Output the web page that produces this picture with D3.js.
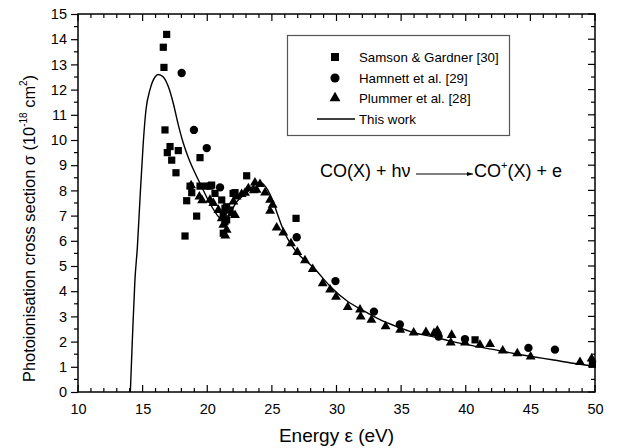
<!DOCTYPE html>
<html><head><meta charset="utf-8">
<script src="https://cdn.jsdelivr.net/npm/d3@7"></script>
<style>body{margin:0;background:#fff}svg{display:block;font-family:"Liberation Sans",Arial,sans-serif}</style>
</head><body><svg id="c" width="627" height="448"></svg>
<script>
// ---- data ----
const samsonGardner = [[16.86,14.19],[16.6,13.68],[16.65,12.88],[16.73,10.4],[17.12,9.74],[16.91,9.5],[17.76,9.58],[17.25,9.2],[19.44,9.3],[17.58,8.7],[18.67,8.17],[18.8,7.91],[19.44,8.17],[19.96,8.17],[20.21,8.17],[18.41,7.59],[19.18,6.98],[18.28,6.19],[23.05,8.58],[22.15,7.91],[20.34,8.21],[20.6,7.88],[21.12,7.62],[21.5,7.35],[21.76,7.22],[21.24,7.02],[21.5,6.83],[21.24,6.3],[22.0,7.88],[21.37,7.29],[21.37,6.76],[26.87,6.89],[40.72,2.07],[49.8,1.1]];
const hamnett = [[18.02,12.66],[18.97,10.4],[19.96,9.68],[20.99,8.12],[26.92,6.14],[29.92,4.4],[32.9,3.19],[34.9,2.68],[37.9,2.2],[39.94,2.1],[44.85,1.75],[46.9,1.68]];
const plummer = [[18.75,8.2],[19.39,7.75],[19.6,7.6],[20.21,7.62],[20.47,7.49],[20.86,7.22],[21.12,6.89],[21.24,6.63],[21.5,6.43],[21.4,6.2],[21.89,7.09],[22.15,7.02],[22.02,7.55],[22.28,7.75],[22.66,7.85],[22.92,7.9],[23.18,8.08],[23.6,8.0],[23.69,8.31],[24.08,8.25],[23.82,8.02],[24.47,7.91],[24.86,7.62],[25.06,7.42],[24.86,7.19],[25.37,6.52],[25.88,6.32],[26.48,5.9],[26.97,5.55],[27.56,5.22],[28.16,4.87],[28.93,4.31],[29.5,4.06],[29.96,3.77],[30.87,3.37],[31.82,3.27],[31.87,2.99],[32.7,2.86],[33.8,2.6],[34.93,2.46],[35.97,2.35],[36.92,2.37],[37.54,2.33],[37.8,2.43],[38.91,2.26],[38.84,1.96],[39.94,1.96],[41.1,1.87],[41.88,1.9],[42.86,1.64],[43.99,1.53],[45.02,1.4],[48.84,1.18],[49.74,1.32]];
const thisWorkE = [14.05,14.2,14.4,14.6,14.8,15.05,15.26,15.57,15.96,16.2,16.6,17.0,17.37,17.76,18.15,18.54,19.0,19.44,20.2,20.86,21.3,21.76,22.28,23.05,23.7,24.1,24.6,25.1,25.5,26.0,26.5,27.0,28.2,29.5,30.8,32.1,33.4,34.9,36.0,37.5,39.0,40.6,42.1,43.7,45.2,46.8,48.3,49.9];
const thisWorkSigma = [0,2.0,4.4,5.8,7.7,9.9,11.2,12.0,12.5,12.6,12.5,12.1,11.46,10.6,9.87,9.3,8.75,8.28,7.49,6.96,6.75,7.09,7.55,7.9,8.25,8.33,8.08,7.55,6.96,6.3,5.85,5.5,4.95,4.2,3.62,3.22,2.86,2.55,2.35,2.19,2.0,1.83,1.69,1.53,1.4,1.27,1.14,1.02];
const xTicks = [10,15,20,25,30,35,40,45,50];
const yTicks = [0,1,2,3,4,5,6,7,8,9,10,11,12,13,14,15];
const legendLabels = ["Samson & Gardner [30]","Hamnett et al. [29]","Plummer et al. [28]","This work"];

// ---- chart ----
const svg = d3.select("#c");
const L=78,R=595,T=14,B=392;
const x = d3.scaleLinear().domain([10,50]).range([L,R]);
const y = d3.scaleLinear().domain([0,15]).range([B,T]);
const g = svg.append("g");

const xMinor = d3.range(10,50.01,1).filter(v=>v%5!==0);
const yMinor = d3.range(0.5,15,1);

// bottom axis (ticks inward)
const bottom = g.append("g").attr("transform",`translate(0,${B})`)
  .call(d3.axisBottom(x).tickValues(xTicks).tickSize(0).tickPadding(12).tickFormat(d3.format("d")));
bottom.select(".domain").remove();
bottom.selectAll("text").attr("font-size",14.5).attr("fill","#000").attr("font-family","Liberation Sans, Arial, sans-serif");
const tickStroke = (sel)=>sel.attr("stroke","#000").attr("stroke-width",1.2);
g.selectAll(".xbM").data(xTicks).join("line").attr("x1",d=>x(d)).attr("x2",d=>x(d)).attr("y1",B).attr("y2",B-7).call(tickStroke);
g.selectAll(".xbm").data(xMinor).join("line").attr("x1",d=>x(d)).attr("x2",d=>x(d)).attr("y1",B).attr("y2",B-4).call(tickStroke);
g.selectAll(".xtM").data(xTicks).join("line").attr("x1",d=>x(d)).attr("x2",d=>x(d)).attr("y1",T).attr("y2",T+7).call(tickStroke);
g.selectAll(".xtm").data(xMinor).join("line").attr("x1",d=>x(d)).attr("x2",d=>x(d)).attr("y1",T).attr("y2",T+4).call(tickStroke);

// left axis (ticks outward)
const left = g.append("g").attr("transform",`translate(${L},0)`)
  .call(d3.axisLeft(y).tickValues(yTicks).tickSize(7).tickPadding(4).tickFormat(d3.format("d")));
left.select(".domain").remove();
left.selectAll("line").attr("stroke","#000").attr("stroke-width",1.2);
left.selectAll("text").attr("font-size",14.5).attr("fill","#000").attr("font-family","Liberation Sans, Arial, sans-serif");
g.selectAll(".ylm").data(yMinor).join("line").attr("x1",L).attr("x2",L-4).attr("y1",d=>y(d)).attr("y2",d=>y(d)).call(tickStroke);
g.selectAll(".yrM").data(yTicks).join("line").attr("x1",R).attr("x2",R-7).attr("y1",d=>y(d)).attr("y2",d=>y(d)).call(tickStroke);
g.selectAll(".yrm").data(yMinor).join("line").attr("x1",R).attr("x2",R-4).attr("y1",d=>y(d)).attr("y2",d=>y(d)).call(tickStroke);

// frame
g.append("rect").attr("x",L).attr("y",T).attr("width",R-L).attr("height",B-T)
  .attr("fill","none").attr("stroke","#000").attr("stroke-width",1.5);

// curve
const curveData = thisWorkE.map((e,i)=>[e,thisWorkSigma[i]]);
g.append("path").datum(curveData)
  .attr("d",d3.line().x(d=>x(d[0])).y(d=>y(d[1])).curve(d3.curveMonotoneX))
  .attr("fill","none").attr("stroke","#000").attr("stroke-width",1.4);

// markers
const symSq = d3.symbol().type(d3.symbolSquare).size(52);
const symCi = d3.symbol().type(d3.symbolCircle).size(55);
const symTr = d3.symbol().type(d3.symbolTriangle).size(42);
g.selectAll(".tr").data(plummer).join("path").attr("d",symTr)
  .attr("transform",d=>`translate(${x(d[0])},${y(d[1])})`).attr("fill","#000");
g.selectAll(".sq").data(samsonGardner).join("path").attr("d",symSq)
  .attr("transform",d=>`translate(${x(d[0])},${y(d[1])})`).attr("fill","#000");
g.selectAll(".ci").data(hamnett).join("path").attr("d",symCi)
  .attr("transform",d=>`translate(${x(d[0])},${y(d[1])})`).attr("fill","#000");

// legend
const lg = g.append("g");
lg.append("rect").attr("x",287.5).attr("y",35.5).attr("width",222).attr("height",100)
  .attr("fill","#fff").attr("stroke","#555").attr("stroke-width",1.2);
const rowsY = [57,78,98,119];
const legSyms = [d3.symbol().type(d3.symbolSquare).size(64),d3.symbol().type(d3.symbolCircle).size(66),d3.symbol().type(d3.symbolTriangle).size(52)];
legSyms.forEach((s,i)=>lg.append("path").attr("d",s).attr("transform",`translate(335,${rowsY[i]})`).attr("fill","#000"));
lg.append("line").attr("x1",317).attr("x2",355).attr("y1",rowsY[3]).attr("y2",rowsY[3]).attr("stroke","#000").attr("stroke-width",1.4);
lg.selectAll("text").data(legendLabels).join("text").attr("x",359).attr("y",(d,i)=>rowsY[i]+5)
  .attr("font-size",13.3).text(d=>d);

// reaction annotation
const ann = g.append("g").attr("font-size",18);
ann.append("text").attr("x",320).attr("y",177).text("CO(X) + hν");
svg.append("defs").append("marker").attr("id","ah").attr("viewBox","0 0 10 10").attr("refX",10).attr("refY",5)
  .attr("markerWidth",6).attr("markerHeight",6).attr("orient","auto")
  .append("path").attr("d","M0,1.5L10,5L0,8.5Z").attr("fill","#000");
ann.append("line").attr("x1",416).attr("x2",473).attr("y1",174).attr("y2",174)
  .attr("stroke","#000").attr("stroke-width",1).attr("marker-end","url(#ah)");
const t2 = ann.append("text").attr("x",474).attr("y",177);
t2.append("tspan").text("CO");
t2.append("tspan").attr("font-size",11).attr("dy",-8).text("+");
t2.append("tspan").attr("dy",8).text("(X) + e");

// axis titles
g.append("text").attr("x",(L+R)/2).attr("y",442).attr("text-anchor","middle").attr("font-size",19).text("Energy ε (eV)");
const yt = g.append("text").attr("transform",`translate(35,382) rotate(-90)`).attr("text-anchor","start").attr("font-size",16.4);
yt.append("tspan").text("Photoionisation cross section σ (10");
yt.append("tspan").attr("font-size",10).attr("dy",-8).text("-18");
yt.append("tspan").attr("dy",8).text(" cm");
yt.append("tspan").attr("font-size",10).attr("dy",-8).text("2");
yt.append("tspan").attr("dy",8).text(")");
</script></body></html>
